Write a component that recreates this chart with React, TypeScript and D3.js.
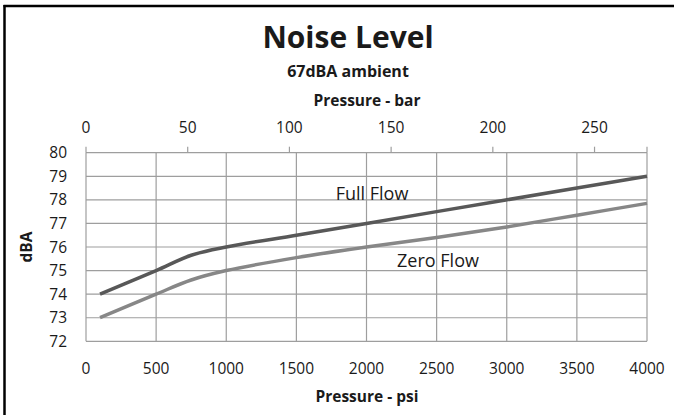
import { useRef, useEffect } from "react";
import * as d3 from "d3";

const psi = [100, 500, 750, 1000, 1500, 2000, 2500, 3000, 3500, 4000];
const fullFlow = [74.0, 75.0, 75.65, 76.0, 76.5, 77.0, 77.5, 78.0, 78.5, 79.0];
const zeroFlow = [73.0, 74.0, 74.6, 75.0, 75.55, 76.0, 76.4, 76.85, 77.35, 77.85];

const psiTicks = [0, 500, 1000, 1500, 2000, 2500, 3000, 3500, 4000];
const barTicks = [0, 50, 100, 150, 200, 250];
const dbaTicks = [72, 73, 74, 75, 76, 77, 78, 79, 80];

const PSI_PER_BAR = 14.5038;
const FONT = "'Open Sans', 'DejaVu Sans', sans-serif";

interface Pt {
  x: number;
  y: number;
}

export default function App() {
  const svgRef = useRef<SVGSVGElement>(null);
  const width = 674;
  const height = 415;

  useEffect(() => {
    if (!svgRef.current) return;
    const svg = d3.select(svgRef.current);
    svg.selectAll("*").remove();

    const left = 86, right = 647, top = 152.7, bottom = 341.3;

    const x = d3.scaleLinear().domain([0, 4000]).range([left, right]);
    const xBar = d3.scaleLinear().domain([0, 4000 / PSI_PER_BAR]).range([left, right]);
    const y = d3.scaleLinear().domain([72, 80]).range([bottom, top]);

    svg.append("rect").attr("width", width).attr("height", height).attr("fill", "#fff");

    // outer frame (only left and top visible)
    svg.append("line").attr("x1", 4.5).attr("x2", 4.5).attr("y1", 5).attr("y2", height)
      .attr("stroke", "#000").attr("stroke-width", 2.5);
    svg.append("line").attr("x1", 3.5).attr("x2", width).attr("y1", 6).attr("y2", 6)
      .attr("stroke", "#000").attr("stroke-width", 2.5);

    // grid
    const grid = svg.append("g").attr("stroke", "#9e9e9e").attr("stroke-width", 1.2);
    grid.selectAll("line.h").data(dbaTicks).join("line")
      .attr("x1", left).attr("x2", right)
      .attr("y1", d => y(d)).attr("y2", d => y(d));
    grid.selectAll("line.v").data(psiTicks).join("line")
      .attr("x1", d => x(d)).attr("x2", d => x(d))
      .attr("y1", top).attr("y2", bottom);

    // top (bar) axis tick marks
    grid.selectAll("line.t").data(barTicks).join("line")
      .attr("x1", d => xBar(d)).attr("x2", d => xBar(d))
      .attr("y1", top - 6).attr("y2", top);
    grid.append("line").attr("x1", right).attr("x2", right).attr("y1", top - 6).attr("y2", top);

    // series
    const line = d3.line<Pt>().x(d => x(d.x)).y(d => y(d.y)).curve(d3.curveCatmullRom.alpha(0.5));
    const full: Pt[] = psi.map((p, i) => ({ x: p, y: fullFlow[i] }));
    const zero: Pt[] = psi.map((p, i) => ({ x: p, y: zeroFlow[i] }));

    svg.append("path").datum(zero).attr("d", line).attr("fill", "none")
      .attr("stroke", "#878787").attr("stroke-width", 3.5);
    svg.append("path").datum(full).attr("d", line).attr("fill", "none")
      .attr("stroke", "#585858").attr("stroke-width", 3.5);

    const text = (tx: number, ty: number, s: string, size: number, weight = "normal", anchor = "middle") =>
      svg.append("text").attr("x", tx).attr("y", ty).attr("text-anchor", anchor)
        .attr("font-family", FONT).attr("font-size", size).attr("font-weight", weight)
        .attr("fill", "#1a1a1a").text(s);

    // tick labels
    psiTicks.forEach(t => text(x(t), 374, String(t), 15.5));
    barTicks.forEach(t => text(xBar(t), 133, String(t), 15.5));
    dbaTicks.forEach(t => text(67, y(t) + 5.5, String(t), 15.5, "normal", "end"));

    // titles
    text(348, 48, "Noise Level", 30, "bold");
    text(348, 77, "67dBA ambient", 16, "bold");
    text(367, 106, "Pressure - bar", 15.5, "bold");
    text(367, 402, "Pressure - psi", 15.5, "bold");
    text(0, 0, "dBA", 15.5, "bold")
      .attr("transform", `translate(32,${(top + bottom) / 2}) rotate(-90)`);

    // series labels
    text(372, 199.5, "Full Flow", 18);
    text(438, 266.5, "Zero Flow", 18);
  }, []);

  return (
    <svg
      ref={svgRef}
      width={width}
      height={height}
      style={{ position: "absolute", left: 0, top: 0, display: "block" }}
    />
  );
}
